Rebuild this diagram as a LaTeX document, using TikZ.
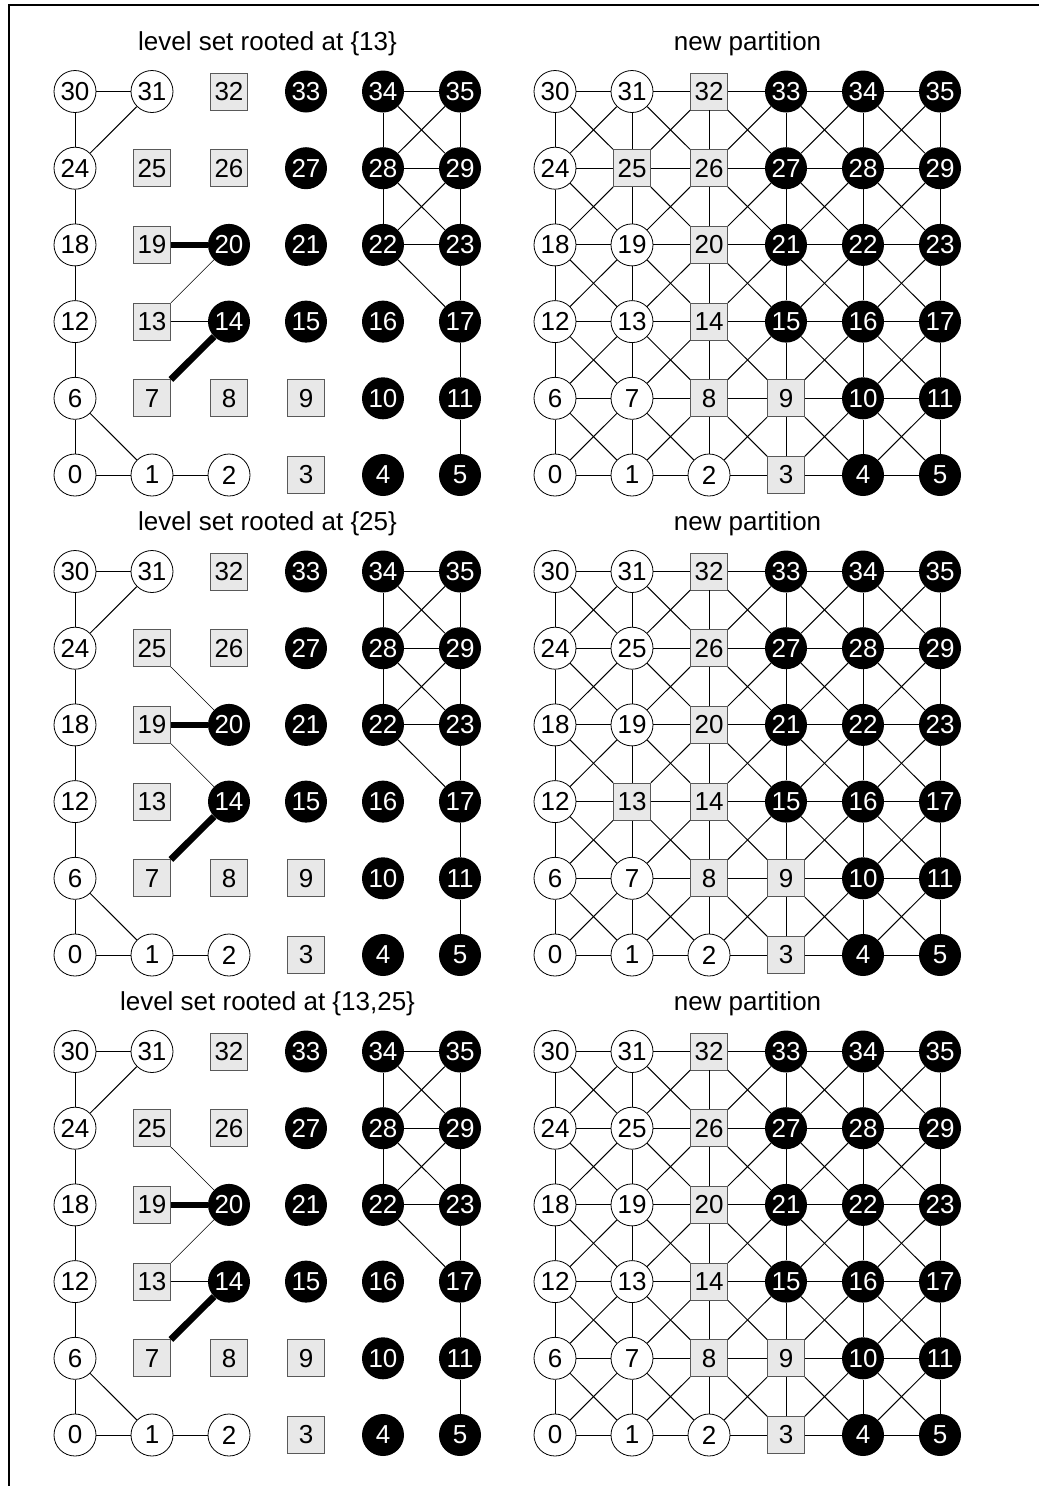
\documentclass[tikz,border=0pt]{standalone}
\usepackage{fontspec}
\setmainfont{Liberation Sans}
\usepackage{tikz}
\usetikzlibrary{positioning}

\tikzstyle{wnode} = [
    circle,
    draw=black,
    line width=0.6pt,
    fill=white,
    minimum size=31.5pt,
    inner sep=0pt,
    font=\fontsize{19.5}{20}\selectfont
]
\tikzstyle{gnode} = [
    rectangle,
    draw=black!65,
    line width=0.6pt,
    fill=black!9,
    minimum size=27.75pt,
    inner sep=0pt,
    font=\fontsize{19.5}{20}\selectfont
]
\tikzstyle{bnode} = [
    circle,
    fill=black,
    text=white,
    minimum size=31.5pt,
    inner sep=0pt,
    font=\fontsize{19.5}{20}\selectfont
]
\tikzstyle{title} = [
    font=\fontsize{19.5}{20}\selectfont
]
\tikzstyle{edge} = [line width=0.75pt]
\tikzstyle{thinedge} = [line width=0.4pt]
\tikzstyle{heavyedge} = [line width=5pt]

% 6x6 grid: #1 prefix, #2 left x, #3 top y, #4 rows (row/{styles})
\newcommand{\drawgrid}[4]{
    \foreach \r/\rowspec in {#4} {
        \foreach \s [count=\c from 0] in \rowspec {
            \pgfmathtruncatemacro{\id}{6*\r+\c}
            \node[\s] (#1-\id) at ({#2+77*\c},{#3+76.7*(5-\r)}) {\id};
        }
    }
}

% edges kept by the level set
\newcommand{\leveledges}[1]{
    \foreach \a/\b in {30/31,30/24,31/24,24/18,18/12,12/6,6/0,6/1,0/1,1/2,
        34/35,34/28,34/29,35/28,35/29,28/29,28/22,28/23,29/22,29/23,
        22/23,22/17,23/17,17/11,11/5}
        \draw[edge] (#1-\a) -- (#1-\b);
}

% all edges of the grid
\newcommand{\gridedges}[1]{
    \foreach \r in {0,...,5}
        \foreach \c in {0,...,4} {
            \pgfmathtruncatemacro{\a}{6*\r+\c}
            \pgfmathtruncatemacro{\b}{\a+1}
            \draw[edge] (#1-\a) -- (#1-\b);
        }
    \foreach \a in {0,...,29} {
        \pgfmathtruncatemacro{\b}{\a+6}
        \draw[edge] (#1-\a) -- (#1-\b);
    }
    \foreach \r in {0,...,4}
        \foreach \c in {0,...,4} {
            \pgfmathtruncatemacro{\a}{6*\r+\c}
            \pgfmathtruncatemacro{\b}{\a+7}
            \pgfmathtruncatemacro{\d}{\a+1}
            \pgfmathtruncatemacro{\e}{\a+6}
            \draw[edge] (#1-\a) -- (#1-\b);
            \draw[edge] (#1-\d) -- (#1-\e);
        }
}

\begin{document}
\begin{tikzpicture}[x=0.75pt, y=-0.75pt]
    \useasboundingbox (0,0) rectangle (1039,1486);

    % frame
    \draw[line width=2pt] (9,1486) -- (9,5) -- (1039,5);

    % first row: level set rooted at {13}
    \node[title] (lvltitle1) at (267.5,44) {level set rooted at \{13\}};
    \drawgrid{lvl1}{75}{91.5}{
        5/{wnode,wnode,gnode,bnode,bnode,bnode},
        4/{wnode,gnode,gnode,bnode,bnode,bnode},
        3/{wnode,gnode,bnode,bnode,bnode,bnode},
        2/{wnode,gnode,bnode,bnode,bnode,bnode},
        1/{wnode,gnode,gnode,gnode,bnode,bnode},
        0/{wnode,wnode,wnode,gnode,bnode,bnode}}
    \leveledges{lvl1}
    \draw[thinedge] (lvl1-13) -- (lvl1-20);
    \draw[thinedge] (lvl1-13) -- (lvl1-14);
    \draw[heavyedge] (lvl1-19) -- (lvl1-20);
    \draw[heavyedge] (lvl1-7) -- (lvl1-14);

    \node[title] (parttitle1) at (747.5,44) {new partition};
    \drawgrid{part1}{555}{91.5}{
        5/{wnode,wnode,gnode,bnode,bnode,bnode},
        4/{wnode,gnode,gnode,bnode,bnode,bnode},
        3/{wnode,wnode,gnode,bnode,bnode,bnode},
        2/{wnode,wnode,gnode,bnode,bnode,bnode},
        1/{wnode,wnode,gnode,gnode,bnode,bnode},
        0/{wnode,wnode,wnode,gnode,bnode,bnode}}
    \gridedges{part1}

    % second row: level set rooted at {25}
    \node[title] (lvltitle2) at (267.5,524) {level set rooted at \{25\}};
    \drawgrid{lvl2}{75}{571.5}{
        5/{wnode,wnode,gnode,bnode,bnode,bnode},
        4/{wnode,gnode,gnode,bnode,bnode,bnode},
        3/{wnode,gnode,bnode,bnode,bnode,bnode},
        2/{wnode,gnode,bnode,bnode,bnode,bnode},
        1/{wnode,gnode,gnode,gnode,bnode,bnode},
        0/{wnode,wnode,wnode,gnode,bnode,bnode}}
    \leveledges{lvl2}
    \draw[thinedge] (lvl2-25) -- (lvl2-20);
    \draw[thinedge] (lvl2-19) -- (lvl2-14);
    \draw[heavyedge] (lvl2-19) -- (lvl2-20);
    \draw[heavyedge] (lvl2-7) -- (lvl2-14);

    \node[title] (parttitle2) at (747.5,524) {new partition};
    \drawgrid{part2}{555}{571.5}{
        5/{wnode,wnode,gnode,bnode,bnode,bnode},
        4/{wnode,wnode,gnode,bnode,bnode,bnode},
        3/{wnode,wnode,gnode,bnode,bnode,bnode},
        2/{wnode,gnode,gnode,bnode,bnode,bnode},
        1/{wnode,wnode,gnode,gnode,bnode,bnode},
        0/{wnode,wnode,wnode,gnode,bnode,bnode}}
    \gridedges{part2}

    % third row: level set rooted at {13,25}
    \node[title] (lvltitle3) at (267.5,1004) {level set rooted at \{13,25\}};
    \drawgrid{lvl3}{75}{1051.5}{
        5/{wnode,wnode,gnode,bnode,bnode,bnode},
        4/{wnode,gnode,gnode,bnode,bnode,bnode},
        3/{wnode,gnode,bnode,bnode,bnode,bnode},
        2/{wnode,gnode,bnode,bnode,bnode,bnode},
        1/{wnode,gnode,gnode,gnode,bnode,bnode},
        0/{wnode,wnode,wnode,gnode,bnode,bnode}}
    \leveledges{lvl3}
    \draw[thinedge] (lvl3-25) -- (lvl3-20);
    \draw[thinedge] (lvl3-13) -- (lvl3-20);
    \draw[thinedge] (lvl3-13) -- (lvl3-14);
    \draw[heavyedge] (lvl3-19) -- (lvl3-20);
    \draw[heavyedge] (lvl3-7) -- (lvl3-14);

    \node[title] (parttitle3) at (747.5,1004) {new partition};
    \drawgrid{part3}{555}{1051.5}{
        5/{wnode,wnode,gnode,bnode,bnode,bnode},
        4/{wnode,wnode,gnode,bnode,bnode,bnode},
        3/{wnode,wnode,gnode,bnode,bnode,bnode},
        2/{wnode,wnode,gnode,bnode,bnode,bnode},
        1/{wnode,wnode,gnode,gnode,bnode,bnode},
        0/{wnode,wnode,wnode,gnode,bnode,bnode}}
    \gridedges{part3}
\end{tikzpicture}
\end{document}
